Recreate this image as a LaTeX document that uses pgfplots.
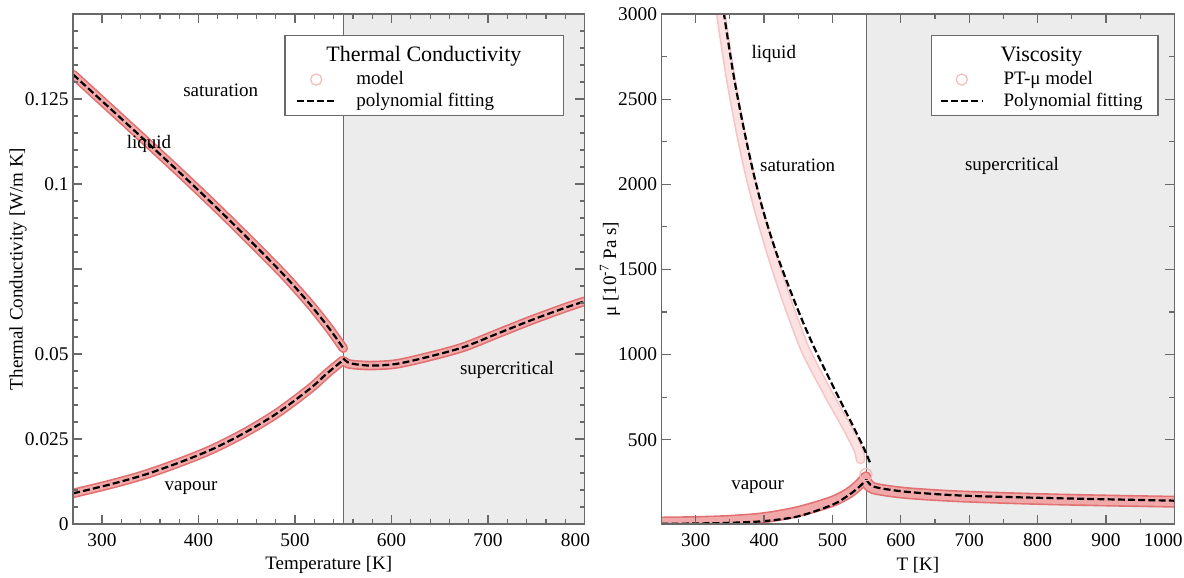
\documentclass[border=0pt]{standalone}
\usepackage{fontspec}
\setmainfont{Liberation Serif}
\usepackage{pgfplots}
\usepackage{pgfplotstable}
\pgfplotsset{compat=1.18}

\definecolor{shade}{RGB}{236,236,236}
\definecolor{bandout}{RGB}{226,112,112}
\definecolor{bandin}{RGB}{241,168,168}
\definecolor{lbandout}{RGB}{247,196,196}
\definecolor{lbandin}{RGB}{252,226,226}
\definecolor{circpink}{RGB}{246,186,186}
\definecolor{axgray}{RGB}{105,105,105}

% ---------- Thermal conductivity ----------
\pgfplotstableread{
T k
270 0.1322
300 0.1244
340 0.1140
380 0.1035
420 0.0927
460 0.0815
490 0.0728
515 0.0648
535 0.0577
550 0.0517
}\kliq
\pgfplotstableread{
T k
270 0.0090
308.3 0.01164
342.8 0.01437
377.4 0.0178
411.9 0.0217
446.4 0.0266
481 0.0325
515.5 0.0398
532.8 0.0442
549.4 0.0481
}\kvap
\pgfplotstableread{
T k
550 0.0487
557 0.0473
577.7 0.0466
605.4 0.0471
639.9 0.0493
674.4 0.0520
709 0.0559
743.5 0.0598
778 0.0634
800 0.0655
}\ksupfit
\pgfplotstableread{
T k
551 0.0478
557 0.0470
577.7 0.0466
605.4 0.0471
639.9 0.0493
674.4 0.0520
709 0.0559
743.5 0.0598
778 0.0634
800 0.0655
}\ksupmod

% ---------- Viscosity ----------
\pgfplotstableread{
T mu
341 3010
355 2650
369.7 2340
384.3 2070
399 1840
418.6 1590
438 1380
457.5 1185
477 1010
506.4 770
530.8 575
545.4 455
555 365
}\mliqfit
\pgfplotstableread{
T mu
336.5 3010
350 2650
366 2300
379.5 2050
394 1825
411 1590
428 1380
443 1210
462.5 1010
496.6 750
521 575
538 440
541 385
}\mliqmod
\pgfplotstableread{
T mu
250 6
300 8
350 12
400 22
450 50
500 118
525 178
540 226
550 266
}\mvapfit
\pgfplotstableread{
T mu
250 16
300 19
350 26
400 42
450 78
500 138
525 190
540 240
549 282
}\mvapmod
\pgfplotstableread{
T mu
550 266
560 225
599 198
653 180
702 170
799 159
902 150
1000 142
}\msupfit
\pgfplotstableread{
T mu
550 250
560 215
600 190
650 175
700 165
800 152
900 143
1000 136
}\msupmod

\pgfplotsset{
  myax/.style={
    scale only axis, height=255pt,
    tick align=inside, tick pos=both, axis on top,
    axis line style={draw=axgray, line width=0.6pt},
    every tick/.append style={draw=axgray, line width=0.6pt},
    major tick length=4.6pt, minor tick length=2.5pt,
    tick label style={font=\fontsize{9.7}{11}\selectfont},
    /pgf/number format/assume math mode=true,
    /pgf/number format/1000 sep={},
    scaled ticks=false,
    label style={font=\fontsize{9.5}{11}\selectfont},
    xticklabel style={yshift=-1.3pt},
    yticklabel style={xshift=1.3pt},
    legend cell align=left,
    legend style={draw=none, fill=none, inner sep=0pt, row sep=2.5pt,
      anchor=west, font=\fontsize{9.5}{11}\selectfont,
      nodes={inner sep=0pt}},
  },
  bandO/.style={bandout, line width=4.8pt, smooth, line cap=round, forget plot},
  bandI/.style={bandin, line width=3.2pt, smooth, line cap=round, forget plot},
  fitline/.style={black, line width=1.1pt, dash pattern=on 3.5pt off 1.6pt, smooth, forget plot},
}

\begin{document}
\begin{tikzpicture}
% ================= LEFT =================
\begin{axis}[myax, at={(0pt,0pt)}, anchor=south west, width=255.7pt,
  xmin=270, xmax=800, ymin=0, ymax=0.15,
  xtick={300,400,...,800}, minor x tick num=4,
  xticklabels={300,400,500,600,700,\makebox[0pt]{\hspace*{-9pt}800}},
  ytick={0,0.025,0.05,0.075,0.1,0.125,0.15},
  yticklabels={0,0.025,0.05,{},0.1,0.125,{}},
  minor y tick num=4,
  xlabel={Temperature [K]},
  ylabel={Thermal Conductivity [W/m K]},
  xlabel style={at={(axis description cs:0.5,-0.0804)}, anchor=center},
  ylabel style={at={(axis description cs:-0.1075,0.5)}, anchor=center},
  legend style={at={(0.434,0.8505)}, column sep=9.7pt},
]
\addplot[fill=shade, draw=none, forget plot] coordinates {(550,0) (800,0) (800,0.15) (550,0.15)} -- cycle;
\addplot[axgray, line width=0.5pt, forget plot] coordinates {(550,0) (550,0.15)};

\addplot[bandO] table[x=T,y=k] {\kliq};
\addplot[bandO] table[x=T,y=k] {\kvap};
\addplot[bandO] table[x=T,y=k] {\ksupmod};
\addplot[bandI] table[x=T,y=k] {\kliq};
\addplot[bandI] table[x=T,y=k] {\kvap};
\addplot[bandI] table[x=T,y=k] {\ksupmod};

\addplot[fitline] table[x=T,y=k] {\kliq};
\addplot[fitline] table[x=T,y=k] {\kvap};
\addplot[fitline] table[x=T,y=k] {\ksupfit};

\node[font=\fontsize{9.5}{11}\selectfont] at (axis cs:423,0.1277) {saturation};
\node[font=\fontsize{9.5}{11}\selectfont] at (axis cs:348.7,0.1119) {liquid};
\node[font=\fontsize{9.5}{11}\selectfont] at (axis cs:392.2,0.0105) {vapour};
\node[font=\fontsize{9.5}{11}\selectfont] at (axis cs:719.7,0.0452) {supercritical};

\draw[fill=white, draw=axgray, line width=0.6pt] (rel axis cs:0.4144,0.8006) rectangle (rel axis cs:0.9586,0.9575);
\node[font=\fontsize{11}{13}\selectfont] at (rel axis cs:0.686,0.917) {Thermal Conductivity};

\addlegendimage{legend image code/.code={\draw[draw=none] (0pt,0pt) -- (19.7pt,0pt); \draw[circpink, line width=0.6pt] (9.85pt,0pt) circle[radius=2.8pt];}}
\addlegendentry{model}
\addlegendimage{legend image code/.code={\draw[black, line width=1.1pt, dash pattern=on 3.5pt off 1.6pt] (0pt,0pt) -- (19.7pt,0pt);}}
\addlegendentry{polynomial fitting}
\end{axis}

% ================= RIGHT =================
\begin{axis}[myax, at={(294.2pt,0pt)}, anchor=south west, width=256.4pt,
  xmin=250, xmax=1000, ymin=5, ymax=3000,
  xtick={300,400,...,1000}, minor x tick num=1,
  xticklabels={300,400,500,600,700,800,900,\makebox[0pt]{\hspace*{-11pt}1000}},
  ytick={500,1000,...,3000}, minor y tick num=1,
  xlabel={T [K]},
  ylabel={μ [10\textsuperscript{-7} Pa s]},
  xlabel style={at={(axis description cs:0.5,-0.0804)}, anchor=center},
  ylabel style={at={(axis description cs:-0.1004,0.5)}, anchor=center},
  legend style={at={(0.5417,0.8505)}, column sep=9.9pt},
]
\addplot[fill=shade, draw=none, forget plot] coordinates {(550,5) (1000,5) (1000,3000) (550,3000)} -- cycle;
\addplot[axgray, line width=0.5pt, forget plot] coordinates {(550,5) (550,3000)};

\addplot[lbandout, line width=5pt, smooth, line cap=round, forget plot] table[x=T,y=mu] {\mliqmod};
\addplot[lbandin, line width=3.4pt, smooth, line cap=round, forget plot] table[x=T,y=mu] {\mliqmod};
\addplot[bandO, line width=5.6pt] table[x=T,y=mu] {\mvapmod};
\addplot[bandO, line width=6pt] table[x=T,y=mu] {\msupmod};
\addplot[bandI, line width=4pt] table[x=T,y=mu] {\mvapmod};
\addplot[bandI, line width=4.4pt] table[x=T,y=mu] {\msupmod};
\addplot[only marks, mark=o, mark size=3pt, circpink, mark options={line width=0.6pt}, forget plot] coordinates {(549,295)};

\addplot[fitline] table[x=T,y=mu] {\mliqfit};
\addplot[fitline] table[x=T,y=mu] {\mvapfit};
\addplot[fitline] table[x=T,y=mu] {\msupfit};

\node[font=\fontsize{9.5}{11}\selectfont] at (axis cs:414.3,2763) {liquid};
\node[font=\fontsize{9.5}{11}\selectfont] at (axis cs:449.1,2110) {saturation};
\node[font=\fontsize{9.5}{11}\selectfont] at (axis cs:390.6,223) {vapour};
\node[font=\fontsize{9.5}{11}\selectfont] at (axis cs:762.7,2110) {supercritical};

\draw[fill=white, draw=axgray, line width=0.6pt] (rel axis cs:0.5271,0.8006) rectangle (rel axis cs:0.9682,0.9575);
\node[font=\fontsize{11}{13}\selectfont] at (rel axis cs:0.7412,0.917) {Viscosity};

\addlegendimage{legend image code/.code={\draw[draw=none] (0pt,0pt) -- (21pt,0pt); \draw[circpink, line width=0.6pt] (10.5pt,0pt) circle[radius=2.8pt];}}
\addlegendentry{PT-μ model}
\addlegendimage{legend image code/.code={\draw[black, line width=1.1pt, dash pattern=on 3.5pt off 1.6pt] (0pt,0pt) -- (21pt,0pt);}}
\addlegendentry{Polynomial fitting}
\end{axis}

\pgfresetboundingbox
\useasboundingbox (-36.55pt,-27pt) rectangle (555.45pt,262pt);
\end{tikzpicture}
\end{document}
